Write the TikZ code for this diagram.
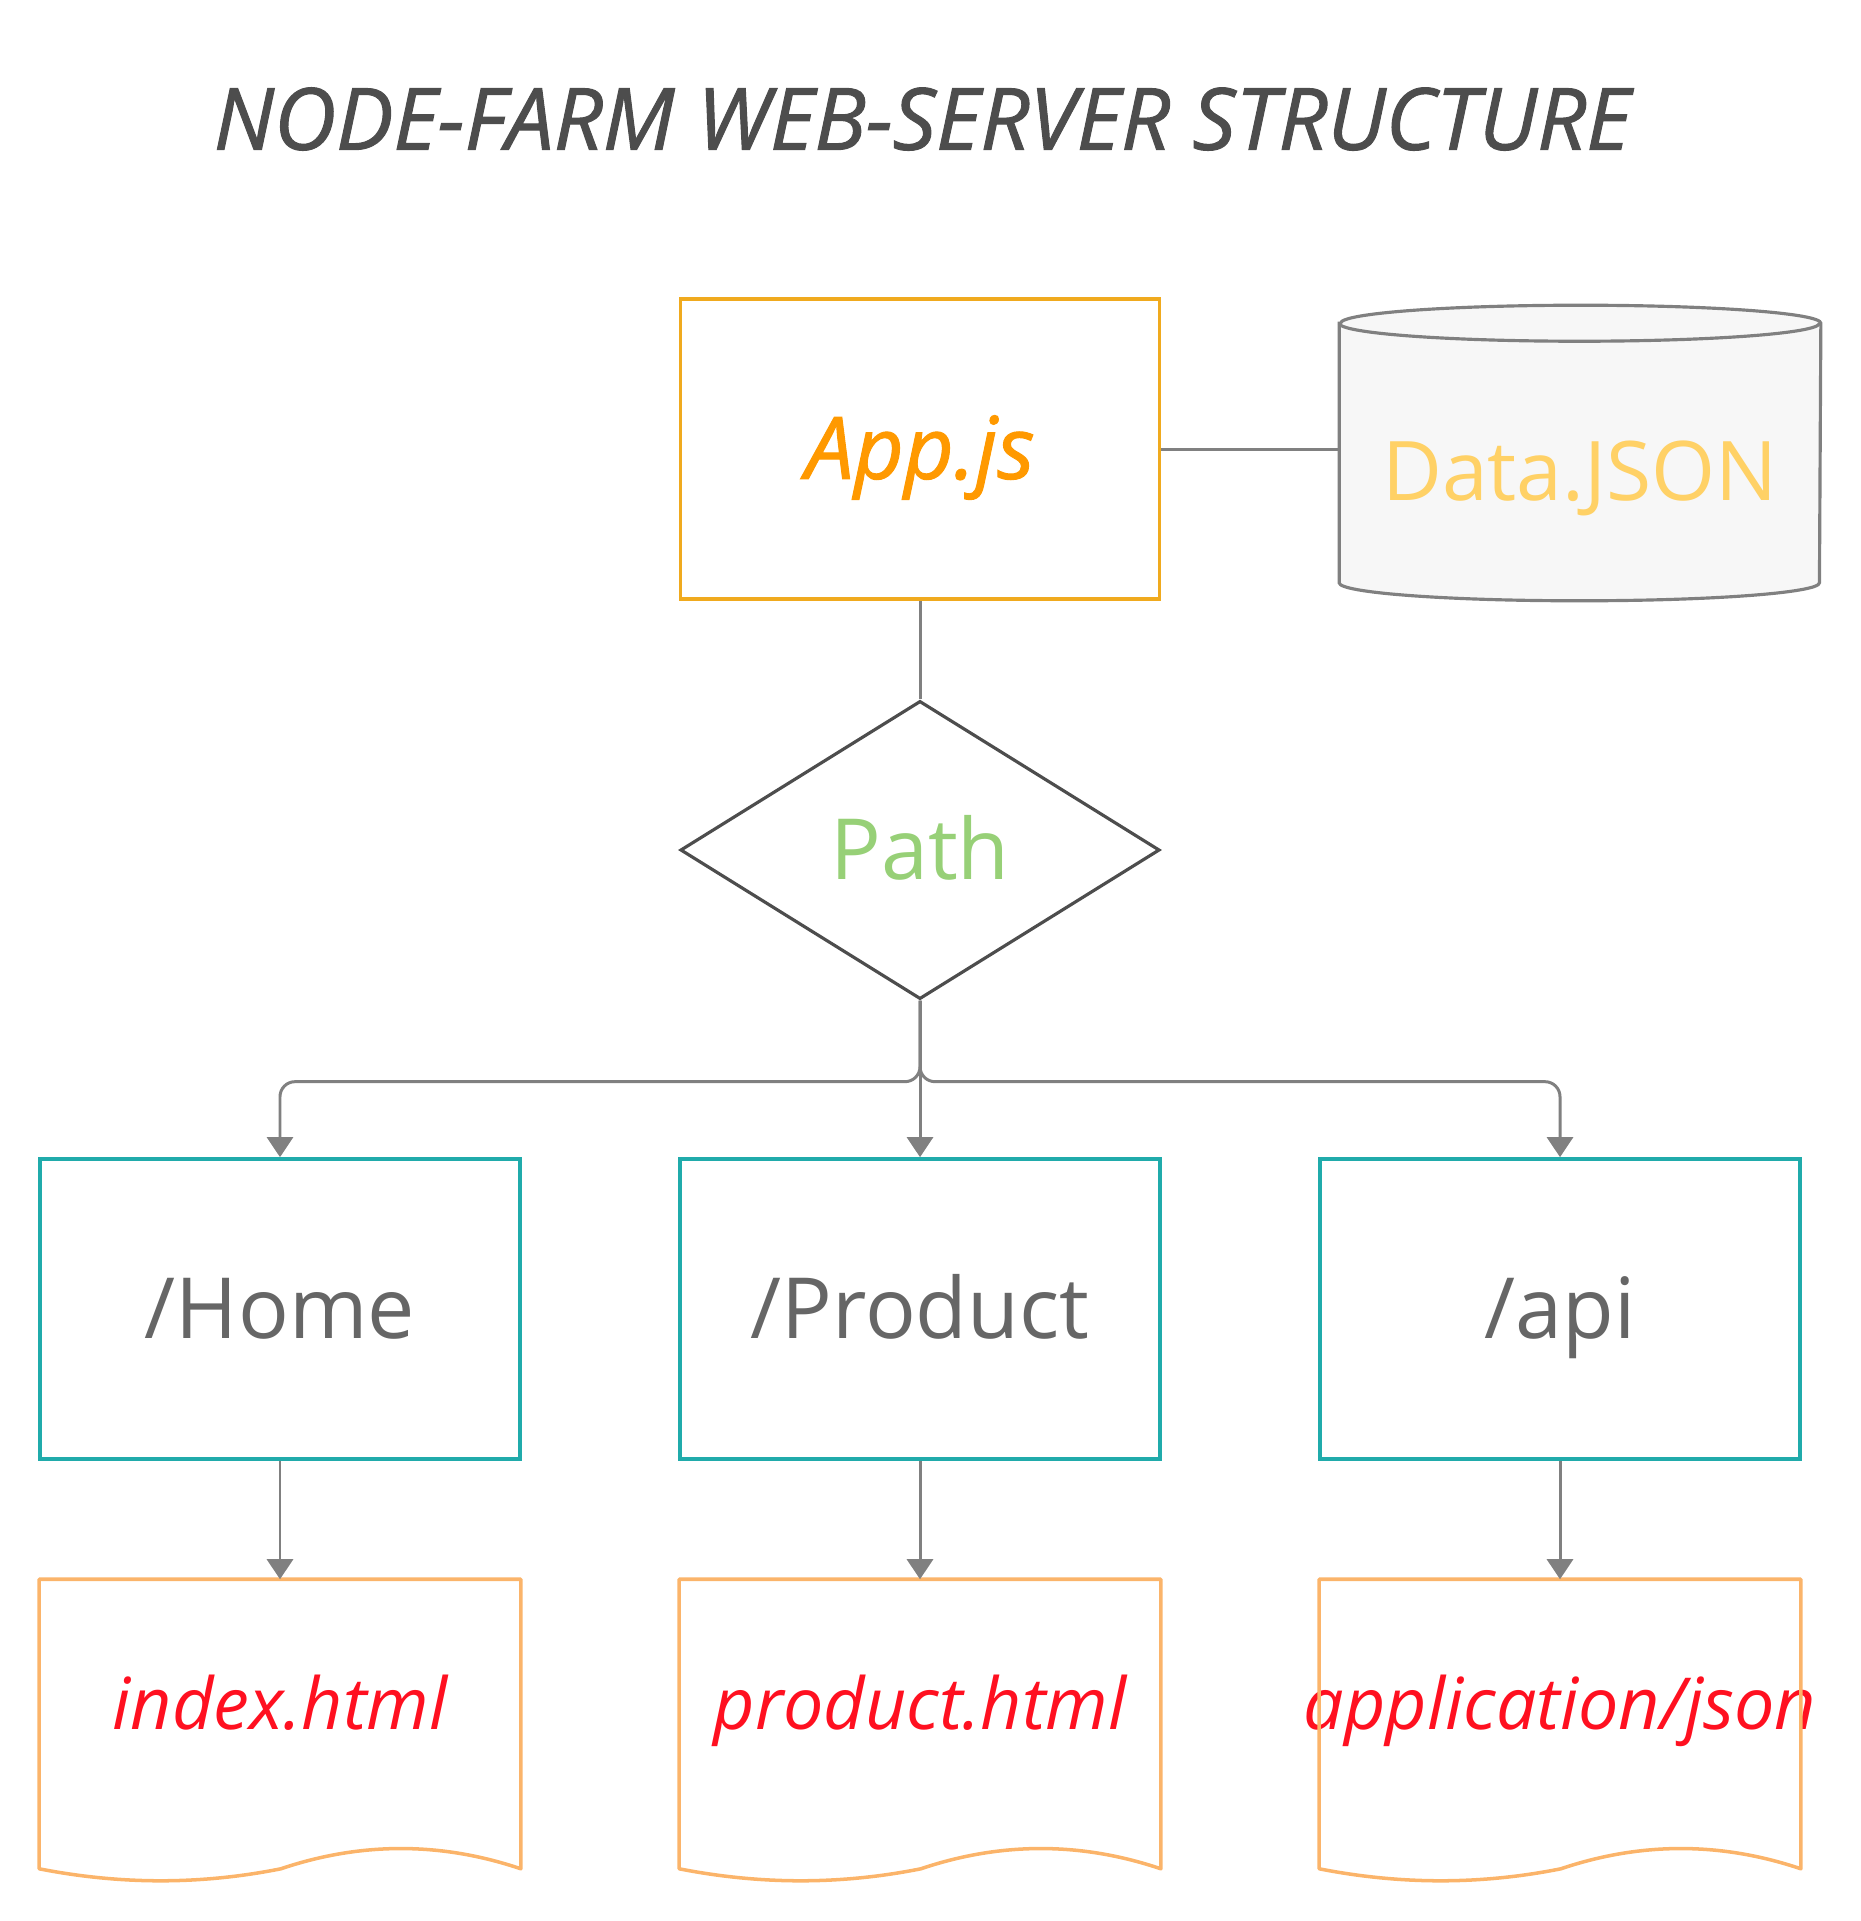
\documentclass[tikz,border=0pt]{standalone}
\usepackage{fontspec}
\setmainfont{Open Sans}
\newfontfamily\headfont[ItalicFeatures={FakeBold=1.2}]{Open Sans}
\usetikzlibrary{arrows.meta,calc,shapes.geometric,backgrounds}

\definecolor{titlegray}{HTML}{4D4D4D}
\definecolor{appline}{HTML}{F0AA1E}
\definecolor{apptext}{HTML}{FF9900}
\definecolor{datatext}{HTML}{FFD166}
\definecolor{datafill}{HTML}{F7F7F7}
\definecolor{linegray}{HTML}{808080}
\definecolor{pathtext}{HTML}{97D077}
\definecolor{teal}{HTML}{20ABAB}
\definecolor{routetext}{HTML}{666666}
\definecolor{docline}{HTML}{FBB46A}
\definecolor{doctext}{HTML}{FF1020}

\tikzset{
    bigtext/.style={font=\fontsize{24}{28}\selectfont, text height=17pt, text depth=0pt},
    doclabel/.style={font=\fontsize{20.4}{24}\selectfont\itshape, text=doctext, text height=15.2pt, text depth=0pt},
    conn/.style={draw=linegray, line width=0.85pt},
    arr/.style={conn, -{Triangle[width=0.26cm,length=0.2cm]}}
}

\begin{document}
\begin{tikzpicture}[x=0.01cm,y=-0.01cm]
        \useasboundingbox (0,0) rectangle (1860,1921);
        \node (title) at (922,119) [text=titlegray, font=\fontsize{24.4}{28}\selectfont\headfont\itshape] {NODE-FARM WEB-SERVER STRUCTURE};

        % top row
        \node (app) at (920,449) [bigtext, draw=appline, line width=1pt, minimum width=4.79cm, minimum height=3cm, text=apptext, font=\fontsize{24.6}{28}\selectfont\headfont\itshape] {App.js};
        \node (data) at (1580,471) [bigtext, minimum width=4.8cm, minimum height=2.58cm, inner sep=0pt, text=datatext, font=\fontsize{23.4}{28}\selectfont] {Data.JSON};
        \begin{scope}[on background layer]
            \draw[draw=linegray, fill=datafill, line width=0.9pt]
                ([shift={(0,-18)}]data.north west) -- ([shift={(0,-18)}]data.south west)
                arc[start angle=180, end angle=360, x radius=2.4cm, y radius=0.18cm]
                -- ([shift={(0,-18)}]data.north east)
                arc[start angle=0, end angle=180, x radius=2.4cm, y radius=0.18cm] -- cycle;
            \draw[draw=linegray, line width=0.9pt]
                ([shift={(0,-18)}]data.north west)
                arc[start angle=180, end angle=360, x radius=2.4cm, y radius=0.18cm];
        \end{scope}

        \node (path) at (920,850) [bigtext, diamond, draw=titlegray, line width=0.9pt, aspect=1.6, minimum width=4.79cm, minimum height=2.98cm, inner sep=0pt, text=pathtext] {Path};

        % routes
        \begin{scope}[every node/.style={bigtext, draw=teal, line width=1pt, minimum width=4.8cm, minimum height=3cm, text=routetext}]
            \node (home) at (280,1309) {/Home};
            \node (prod) at (920,1309) {/Product};
            \node (api) at (1560,1309) {/api};
        \end{scope}

        % documents
        \begin{scope}[every node/.style={doclabel, minimum width=4.8cm, minimum height=2.46cm, inner sep=0pt}]
            \node (idx) at (280,1703) {index.html};
            \node (prodpage) at (920,1703) {product.html};
            \node (json) at (1560,1703) {\makebox[4.8cm]{application/json}};
        \end{scope}
        \foreach \n in {idx,prodpage,json}
            \draw[draw=docline, line width=1pt, line join=round]
                (\n.north west) -- (\n.north east) -- ([shift={(0,42)}]\n.south east)
                .. controls ([shift={(-80,15)}]\n.south east) and ([shift={(-160,15)}]\n.south east) .. ([shift={(-240,42)}]\n.south east)
                .. controls ([shift={(-320,58)}]\n.south east) and ([shift={(-400,58)}]\n.south east) .. ([shift={(0,42)}]\n.south west)
                -- cycle;

        % connectors
        \coordinate (fork) at ($(path.south)+(0,81)$);
        \draw[conn] (app.east) -- (app.east -| data.west);
        \draw[conn] (app.south) -- (path.north);
        \draw[arr, rounded corners=0.15cm] (path.south) -- (fork) -| (home.north);
        \draw[arr, rounded corners=0.15cm] (path.south) -- (fork) -| (api.north);
        \draw[arr] (path.south) -- (prod.north);
        \begin{scope}[every edge/.style={arr}]
            \path
                (home) edge (idx)
                (prod) edge (prodpage)
                (api) edge (json);
        \end{scope}
    \end{tikzpicture}
\end{document}
